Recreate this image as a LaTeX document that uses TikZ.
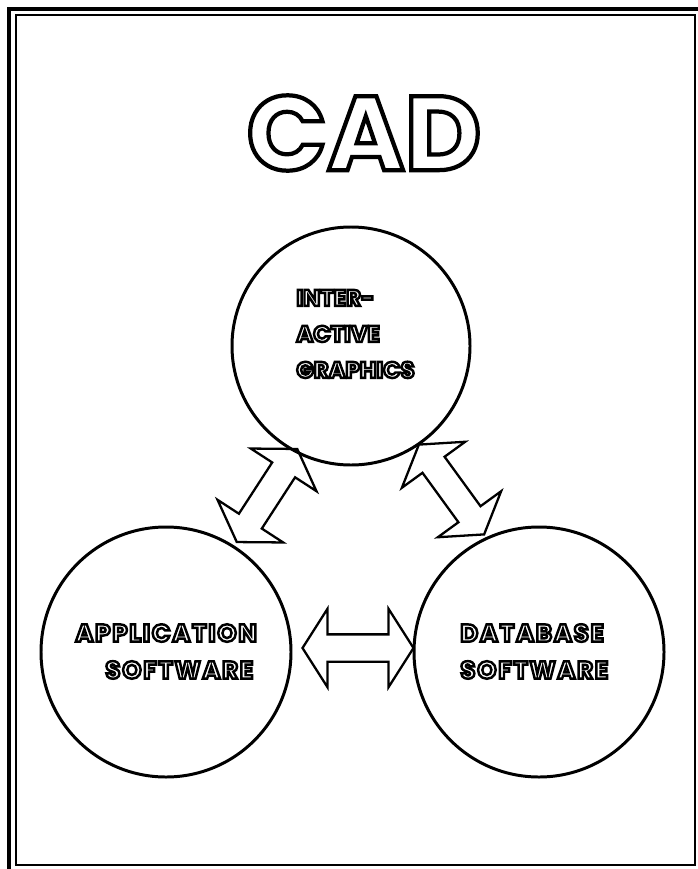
\documentclass[tikz,border=0pt]{standalone}
\usepackage{fontspec}
\setmainfont{Poppins}
\newfontfamily\lblfont{Poppins}[LetterSpace=7]
\usetikzlibrary{shapes.arrows}

% hollow letters: white fill, black stroke of width #1 (bp)
\newcommand{\outlined}[2]{%
  \special{pdf:literal direct #1 w 0 G 1 g 2 Tr}#2\special{pdf:literal direct 0 Tr 0 g 0 G}}

\begin{document}
\begin{tikzpicture}[
  ring/.style={circle, draw, line width=1.7pt, minimum size=#1, inner sep=0pt},
  lbl/.style={font=\lblfont\bfseries\fontsize{14}{21}\selectfont, align=left, inner sep=0pt, anchor=west},
  fatarrow/.style={double arrow, draw, line width=1.3pt, inner xsep=0pt, inner ysep=0.25cm,
    double arrow head extend=0.51cm, double arrow tip angle=115, minimum height=2.22cm}
]
\useasboundingbox (0,0) rectangle (13.94,-17.38);

% frame
\draw [line width=2.3pt] (0.18,-0.18) rectangle (14.3,-17.7);
\draw [line width=0.9pt] (0.32,-0.30) rectangle (13.9,-17.30);

\node (title) at (7.28,-2.66) [font=\fontsize{60}{60}\selectfont\bfseries]{\outlined{2.4}{CAD}};

\node (inter) at (7.02,-6.92) [ring=4.76cm]{};
\node (app) at (3.32,-13.04) [ring=5cm]{};
\node (dbase) at (10.78,-13.04) [ring=5cm]{};

\node (inter-txt) at (5.92,-6.68) [lbl, font=\bfseries\fontsize{13}{20.5}\selectfont]{\outlined{1.4}{INTER-}\\\outlined{1.4}{ACTIVE}\\\outlined{1.4}{GRAPHICS}};
\node (app-txt) at (1.5,-13.03) [lbl]{\outlined{1.4}{APPLICATION}\\\hspace*{0.6cm}\outlined{1.4}{SOFTWARE}};
\node (dbase-txt) at (9.2,-13.03) [lbl]{\outlined{1.4}{DATABASE}\\\outlined{1.4}{SOFTWARE}};

\node (inter-app) at (5.34,-9.91) [fatarrow, rotate=57]{};
\node (inter-dbase) at (9.03,-9.79) [fatarrow, rotate=-54]{};
\node (app-dbase) at (7.16,-12.96) [fatarrow]{};

\end{tikzpicture}
\end{document}
